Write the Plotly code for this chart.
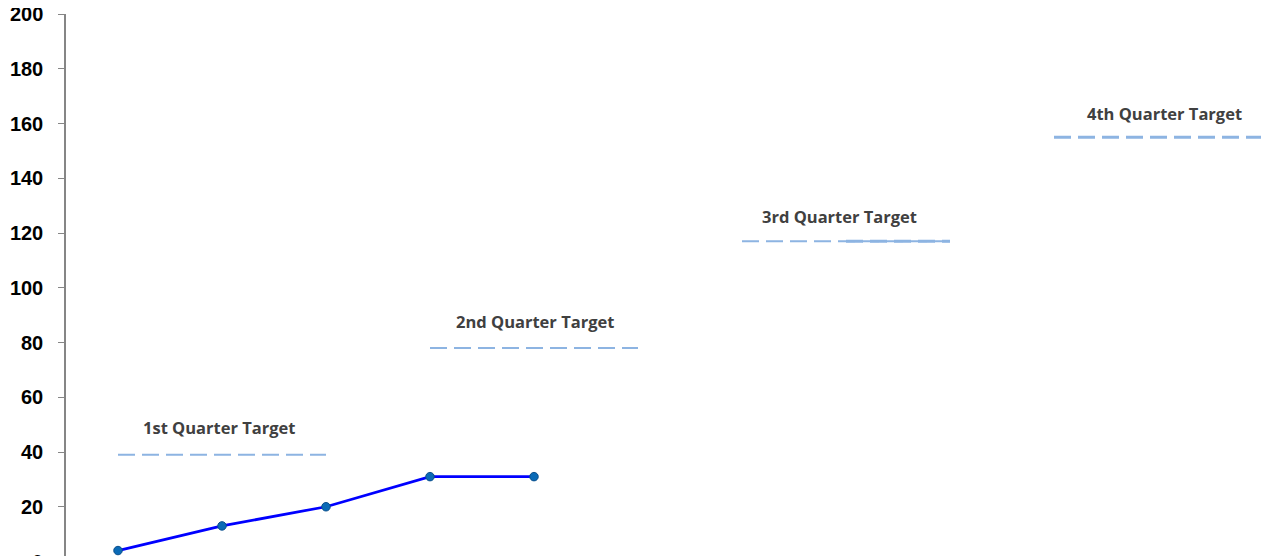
import plotly.graph_objects as go

months = ["Jan", "Feb", "Mar", "Apr", "May", "Jun", "Jul", "Aug", "Sep", "Oct", "Nov", "Dec"]
actual = [4, 13, 20, 31, 31]
quarter_targets = [39, 78, 117, 155]
quarter_labels = ["1st Quarter Target", "2nd Quarter Target", "3rd Quarter Target", "4th Quarter Target"]
y_ticks = [0, 20, 40, 60, 80, 100, 120, 140, 160, 180, 200]

DASH_COLOR = "#8DB4E2"
DASH = "17px,7px"
TICK_FONT = dict(family="Liberation Sans", size=20, color="#000000", weight="bold")

fig = go.Figure()

widths = [2, 2, 2, 3]
for q, (t, w) in enumerate(zip(quarter_targets, widths)):
    xs = months[3 * q:3 * q + 3]
    fig.add_trace(go.Scatter(x=xs, y=[t] * len(xs), mode="lines",
                             line=dict(color=DASH_COLOR, width=w, dash=DASH),
                             hoverinfo="skip", showlegend=False, cliponaxis=False))
    if q == 2:
        xs2 = months[7:9]
        fig.add_trace(go.Scatter(x=xs2, y=[t] * len(xs2), mode="lines",
                                 line=dict(color=DASH_COLOR, width=3, dash=DASH),
                                 hoverinfo="skip", showlegend=False, cliponaxis=False))

fig.add_trace(go.Scatter(x=months[:len(actual)], y=actual, mode="lines+markers",
                         line=dict(color="#0000FF", width=2.75),
                         marker=dict(size=8.5, color="#0A6AB6", line=dict(color="#0B4F8C", width=1)),
                         showlegend=False, cliponaxis=False))

xshifts = [-3, 1, -7, 6]
yshifts = [27, 26, 25, 24]
for q, (t, lab) in enumerate(zip(quarter_targets, quarter_labels)):
    fig.add_annotation(x=months[3 * q + 1], y=t, text=lab, showarrow=False,
                       xshift=xshifts[q], yshift=yshifts[q],
                       font=dict(family="Open Sans", size=16.5, color="#404040", weight="bold"))

# the end tick labels touch the figure edges; draw them as text so they are not dropped
for v in (y_ticks[0], y_ticks[-1]):
    fig.add_annotation(xref="paper", yref="y", x=0, y=v, text=str(v),
                       showarrow=False, xanchor="right", yanchor="middle", xshift=-21,
                       font=TICK_FONT)

# page has an 8px body margin; the figure is cropped at right and bottom like the reference
px_per_unit = 2.7375
plot_h = 556 - 6
fig.update_layout(
    width=1269, height=556,
    margin=dict(l=58, r=0, t=6, b=0),
    plot_bgcolor="white", paper_bgcolor="white",
    xaxis=dict(type="category", range=[-0.5, -0.5 + (1269 - 58) / 104], showticklabels=False,
               showgrid=False, zeroline=False, showline=False, ticks=""),
    yaxis=dict(range=[200 - plot_h / px_per_unit, 200], tickvals=y_ticks, ticktext=[""] + [str(v) for v in y_ticks[1:-1]] + [""],
               showgrid=False, zeroline=False,
               showline=True, linecolor="#868686", linewidth=1.5,
               ticks="outside", ticklen=6, tickcolor="#868686", tickwidth=1,
               ticklabelstandoff=11, tickfont=TICK_FONT),
)

fig.write_html("out.html")
